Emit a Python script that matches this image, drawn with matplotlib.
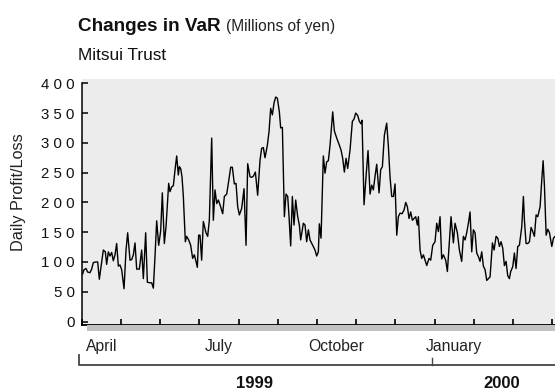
import matplotlib
matplotlib.use("Agg")
import matplotlib.pyplot as plt
from matplotlib import font_manager as fm
from matplotlib.patches import Rectangle
from matplotlib.lines import Line2D
from matplotlib.transforms import blended_transform_factory

# ---- data: VaR (millions of yen), time in months since 1 April 1999 ----
months_since_apr = [
    0.022, 0.056, 0.107, 0.150, 0.209, 0.252, 0.294, 0.362, 0.405, 0.447,
    0.490, 0.549, 0.600, 0.634, 0.677, 0.719, 0.762, 0.804, 0.847, 0.889,
    0.932, 0.974, 1.017, 1.077, 1.128, 1.170, 1.230, 1.272, 1.315, 1.357,
    1.400, 1.468, 1.527, 1.570, 1.629, 1.672, 1.740, 1.782, 1.825, 1.867,
    1.910, 1.961, 2.012, 2.054, 2.105, 2.148, 2.216, 2.250, 2.292, 2.335,
    2.377, 2.420, 2.462, 2.488, 2.522, 2.556, 2.590, 2.641, 2.675, 2.726,
    2.777, 2.828, 2.870, 2.913, 2.947, 2.981, 3.015, 3.057, 3.100, 3.168,
    3.211, 3.253, 3.313, 3.355, 3.398, 3.441, 3.483, 3.526, 3.594, 3.636,
    3.696, 3.738, 3.798, 3.840, 3.891, 3.934, 3.976, 4.019, 4.078, 4.138,
    4.189, 4.231, 4.291, 4.333, 4.376, 4.427, 4.486, 4.546, 4.588, 4.631,
    4.673, 4.733, 4.776, 4.818, 4.861, 4.903, 4.946, 4.988, 5.039, 5.073,
    5.116, 5.167, 5.209, 5.252, 5.286, 5.328, 5.371, 5.413, 5.456, 5.507,
    5.549, 5.583, 5.651, 5.694, 5.736, 5.779, 5.821, 5.889, 5.949, 5.991,
    6.034, 6.059, 6.102, 6.161, 6.204, 6.246, 6.289, 6.332, 6.400, 6.442,
    6.502, 6.570, 6.612, 6.655, 6.697, 6.740, 6.782, 6.842, 6.901, 6.944,
    6.986, 7.037, 7.080, 7.122, 7.148, 7.199, 7.250, 7.301, 7.352, 7.395,
    7.437, 7.480, 7.522, 7.582, 7.624, 7.667, 7.718, 7.777, 7.820, 7.862,
    7.905, 7.948, 7.990, 8.033, 8.075, 8.118, 8.168, 8.219, 8.262, 8.304,
    8.347, 8.389, 8.432, 8.474, 8.517, 8.559, 8.585, 8.628, 8.670, 8.713,
    8.755, 8.798, 8.857, 8.900, 8.951, 9.010, 9.053, 9.095, 9.138, 9.180,
    9.223, 9.282, 9.325, 9.376, 9.418, 9.478, 9.520, 9.580, 9.631, 9.690,
    9.733, 9.776, 9.818, 9.861, 9.903, 9.946, 9.988, 10.031, 10.073, 10.116,
    10.158, 10.201, 10.243, 10.286, 10.329, 10.371, 10.414, 10.474, 10.516, 10.567,
    10.610, 10.652, 10.695, 10.737, 10.779, 10.822, 10.864, 10.907, 10.941, 10.992,
    11.034, 11.077, 11.120, 11.162, 11.222, 11.264, 11.290, 11.332, 11.375, 11.418,
    11.460, 11.503, 11.545, 11.588, 11.630, 11.690, 11.733, 11.767, 11.801, 11.844,
    11.886, 11.929, 11.988, 12.031, 12.073,
]
var_values = [
    80, 87, 89, 83, 82, 88, 99, 100, 100, 71,
    92, 120, 117, 96, 117, 110, 116, 102, 112, 131,
    93, 95, 87, 55, 120, 149, 103, 104, 112, 132,
    88, 88, 120, 72, 149, 66, 65, 65, 56, 109,
    169, 128, 152, 216, 131, 159, 232, 218, 226, 228,
    254, 278, 246, 260, 257, 243, 210, 134, 143, 137,
    128, 106, 112, 101, 91, 145, 145, 103, 168, 149,
    143, 170, 308, 170, 221, 198, 204, 196, 181, 210,
    214, 232, 259, 259, 231, 232, 193, 179, 190, 223,
    128, 265, 243, 242, 244, 251, 212, 271, 291, 292,
    275, 296, 319, 358, 347, 367, 377, 375, 352, 325,
    326, 176, 214, 210, 176, 127, 210, 162, 204, 176,
    162, 137, 165, 162, 134, 154, 137, 128, 120, 110,
    117, 164, 140, 278, 249, 268, 270, 296, 352, 320,
    308, 296, 288, 274, 251, 274, 257, 288, 336, 340,
    350, 346, 336, 332, 338, 196, 243, 287, 214, 229,
    221, 244, 264, 216, 255, 260, 313, 333, 294, 243,
    210, 210, 231, 145, 176, 182, 181, 187, 200, 193,
    173, 184, 170, 173, 176, 162, 176, 120, 106, 112,
    103, 94, 106, 103, 128, 134, 165, 151, 176, 105,
    112, 103, 84, 134, 176, 132, 165, 149, 120, 101,
    143, 137, 149, 165, 184, 117, 154, 149, 115, 109,
    101, 117, 93, 87, 69, 72, 75, 132, 120, 143,
    140, 126, 134, 123, 94, 101, 77, 72, 84, 92,
    115, 89, 126, 128, 159, 210, 170, 131, 131, 134,
    158, 151, 143, 179, 176, 193, 238, 270, 227, 145,
    155, 149, 126, 140, 143,
]

y_ticks = [0, 50, 100, 150, 200, 250, 300, 350, 400]
month_ticks = list(range(13))
quarter_labels = ["April", "July", "October", "January"]
quarter_starts = [0, 3, 6, 9]
year_labels = ["1999", "2000"]
year_boundaries = [0, 9]
year_label_x = [4.4, 10.7]

title_main = "Changes in VaR"
title_unit = "(Millions of yen)"
subtitle = "Mitsui Trust"
y_title = "Daily Profit/Loss"


def font_available(name):
    try:
        fm.findfont(fm.FontProperties(family=name), fallback_to_default=False)
        return True
    except Exception:
        return False


REG = "Liberation Sans"
if font_available("Liberation Sans Narrow"):
    NARROW, NSCALE = "Liberation Sans Narrow", 1.0
else:
    NARROW, NSCALE = REG, 0.88

W, H = 555, 392
fig = plt.figure(figsize=(W / 100, H / 100), dpi=100)
fig.patch.set_facecolor("white")

ax_left, ax_bottom, ax_top = 81.8, 324.5, 79.3
ax = fig.add_axes([ax_left / W, (H - ax_bottom) / H,
                   (W - ax_left) / W, (ax_bottom - ax_top) / H])
ax.set_facecolor("#ececec")

ax.plot(months_since_apr, var_values, color="black", lw=1.0, zorder=3)

ax.set_xlim(0, 12.07)
ax.set_ylim(-5, 406.7)

for side in ("top", "right"):
    ax.spines[side].set_visible(False)
ax.spines["left"].set_bounds(-5, 400)
ax.spines["left"].set_linewidth(1.1)
ax.spines["bottom"].set_linewidth(1.3)

ax.set_yticks(y_ticks)
ax.set_yticklabels([" ".join(str(v)) for v in y_ticks],
                   fontfamily=REG, fontsize=10.8, color="#111111")
ax.tick_params(axis="y", direction="in", length=4.3, width=1.1, pad=5)

ax.set_xticks(month_ticks)
ax.set_xticklabels([])
ax.tick_params(axis="x", direction="in", length=4.6, width=1.2)

# drop shadow under the time axis
fig.patches.append(Rectangle((86.7 / W, (H - 330.5) / H), (W - 86.7) / W, 5.5 / H,
                             transform=fig.transFigure, facecolor="#c2c2c2",
                             edgecolor="none", zorder=0))

xfig = blended_transform_factory(ax.transData, fig.transFigure)

# quarter names
for name, m in zip(quarter_labels, quarter_starts):
    fig.text(m + 0.5, 1 - 351 / H, name, transform=xfig, ha="center",
             va="baseline", fontfamily=NARROW, fontsize=12.9 * NSCALE,
             color="#222222")

# year bracket
y_top = 1 - 355 / H
y_tick_top = 1 - 358 / H
y_line = 1 - 365 / H
off = -0.06
fig.add_artist(Line2D([year_boundaries[0] + off, year_boundaries[0] + off, 12.2],
                      [y_top, y_line, y_line], transform=xfig,
                      color="#444444", lw=1.3, clip_on=False))
fig.add_artist(Line2D([year_boundaries[1] + off, year_boundaries[1] + off],
                      [y_tick_top, y_line], transform=xfig,
                      color="#444444", lw=1.0, clip_on=False))
for name, xm in zip(year_labels, year_label_x):
    fig.text(xm, 1 - 384 / H, name, transform=xfig, ha="center", va="center",
             fontfamily=REG, fontweight="bold", fontsize=12, color="#111111")

# titles
t1 = fig.text(78 / W, 1 - 31 / H, title_main, ha="left", va="baseline",
              fontfamily=REG, fontweight="bold", fontsize=13.6, color="#111111")
renderer = fig.canvas.get_renderer()
bb = t1.get_window_extent(renderer=renderer)
fig.text((bb.x1 + 5) / W, 1 - 31 / H, title_unit, ha="left", va="baseline",
         fontfamily=REG, fontsize=11.2, color="#222222")
fig.text(78 / W, 1 - 60 / H, subtitle, ha="left", va="baseline",
         fontfamily=REG, fontsize=12.4, color="#111111")

fig.text(18.3 / W, 1 - 192 / H, y_title, rotation=90, ha="center", va="center",
         fontfamily=NARROW, fontsize=13.3 * NSCALE, color="#222222")

fig.savefig("out.png", dpi=100, facecolor="white")
